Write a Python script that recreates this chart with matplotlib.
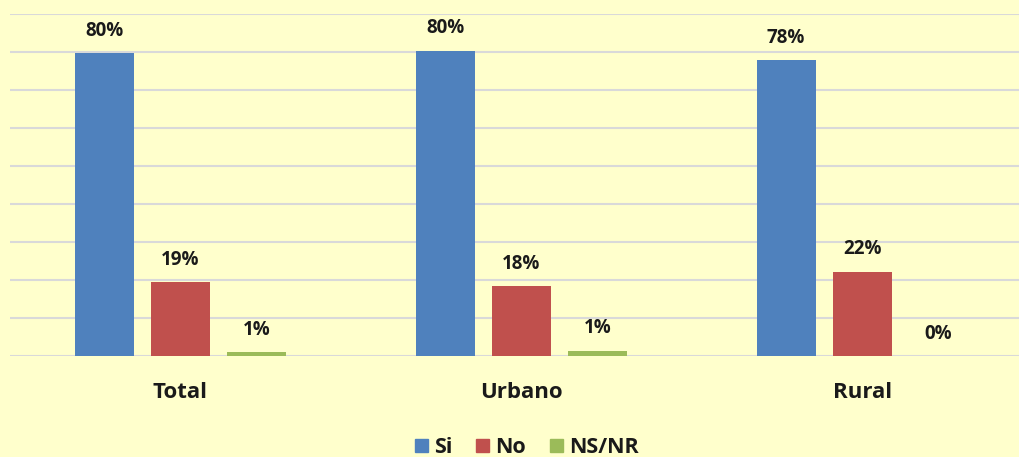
import numpy as np
import matplotlib.pyplot as plt
from matplotlib.patches import Patch

categories = ['Total', 'Urbano', 'Rural']
series_names = ['Si', 'No', 'NS/NR']
si_vals = [79.7, 80.4, 77.9]
no_vals = [19.4, 18.3, 22.2]
nsnr_vals = [1.05, 1.4, 0.0]
colors = ['#4F81BD', '#C0504D', '#9BBB59']

bg = '#FFFFCC'
plt.rcParams['font.family'] = ['Open Sans', 'DejaVu Sans']

fig = plt.figure(figsize=(10.19, 4.57), dpi=100, facecolor=bg)
ax = fig.add_axes([0.0098, 0.221, 0.9902, 0.748], facecolor=bg)

x = np.arange(len(categories))
width = 0.174
step = 0.223

for i, (name, vals) in enumerate(zip(series_names, [si_vals, no_vals, nsnr_vals])):
    pos = x + (i - 1) * step
    bars = ax.bar(pos, vals, width, color=colors[i], zorder=3, label=name)
    for b, v in zip(bars, vals):
        ax.annotate(f'{v:.0f}%', xy=(b.get_x() + b.get_width() / 2, v),
                    xytext=(0, 9), textcoords='offset points',
                    ha='center', va='bottom', fontsize=13.5,
                    fontweight='bold', color='#1a1a1a')

ax.set_ylim(0, 90)
ax.set_xlim(-0.5, 2.46)
ax.set_yticks(range(0, 91, 10))
ax.yaxis.grid(True, color='#D9D9D9', linewidth=1.5, zorder=0)
ax.tick_params(axis='y', left=False, labelleft=False)
ax.set_xticks(x)
ax.set_xticklabels(categories, fontsize=16, fontweight='bold', color='#1a1a1a')
ax.tick_params(axis='x', length=0, pad=19)
for s in ax.spines.values():
    s.set_visible(False)

handles = [Patch(color=c) for c in colors]
fig.legend(handles, series_names, loc='lower center', ncol=3, frameon=False,
           bbox_to_anchor=(0.517, -0.045), handlelength=0.6, handleheight=0.6,
           handletextpad=0.3, columnspacing=1.1,
           prop={'weight': 'bold', 'size': 15.5})
for t in fig.legends[0].get_texts():
    t.set_color('#1a1a1a')

fig.savefig('out.png', dpi=100, facecolor=bg)
